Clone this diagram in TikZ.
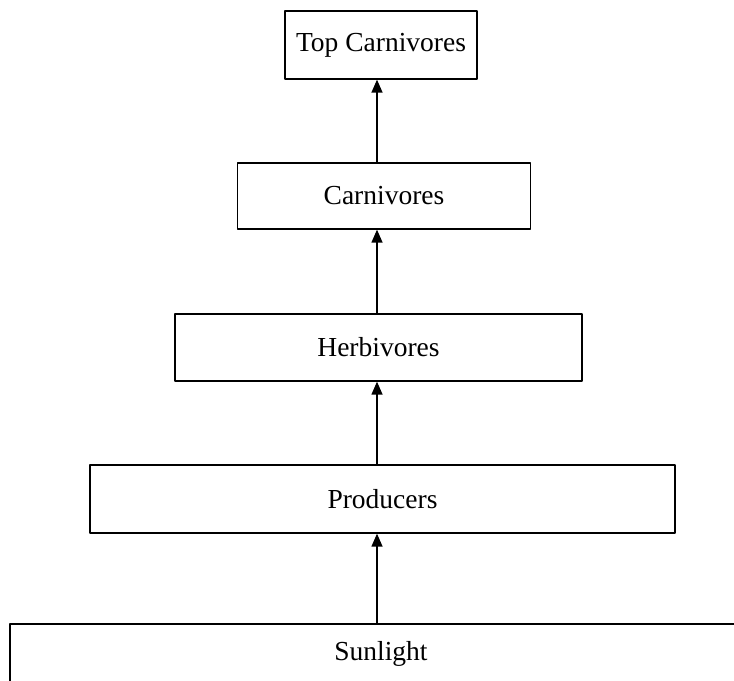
\documentclass[tikz,border=0pt]{standalone}
\usepackage{fontspec}
\setmainfont{Liberation Serif}
\usetikzlibrary{arrows.meta}
\begin{document}
\begin{tikzpicture}[>={Triangle[length=13bp,width=11bp]},line join=bevel,line width=1.3bp,
  level/.style={draw,inner sep=0pt,font=\fontsize{27.5bp}{32bp}\selectfont}]
%%
\useasboundingbox (0bp,0bp) rectangle (734bp,681bp);
\node (node_4) at (381.0bp,636.0bp) [level,minimum width=192bp,minimum height=68bp] {Top Carnivores};
  \node (node_3) at (384.0bp,485.0bp) [level,minimum width=293bp,minimum height=66bp] {Carnivores};
  \node (node_2) at (378.5bp,333.5bp) [level,minimum width=407bp,minimum height=67bp] {Herbivores};
  \node (node_1) at (382.5bp,182.0bp) [level,minimum width=585bp,minimum height=68bp] {Producers};
  \node (node_0) at (381.0bp,27.0bp) [level,minimum width=742bp,minimum height=60bp] {Sunlight};
  \coordinate (axis) at (377.0bp,0bp);
  \draw [black,->] (node_0.north -| axis) -- (node_1.south -| axis);
  \draw [black,->] (node_1.north -| axis) -- (node_2.south -| axis);
  \draw [black,->] (node_2.north -| axis) -- (node_3.south -| axis);
  \draw [black,->] (node_3.north -| axis) -- (node_4.south -| axis);
%
\end{tikzpicture}
\end{document}
